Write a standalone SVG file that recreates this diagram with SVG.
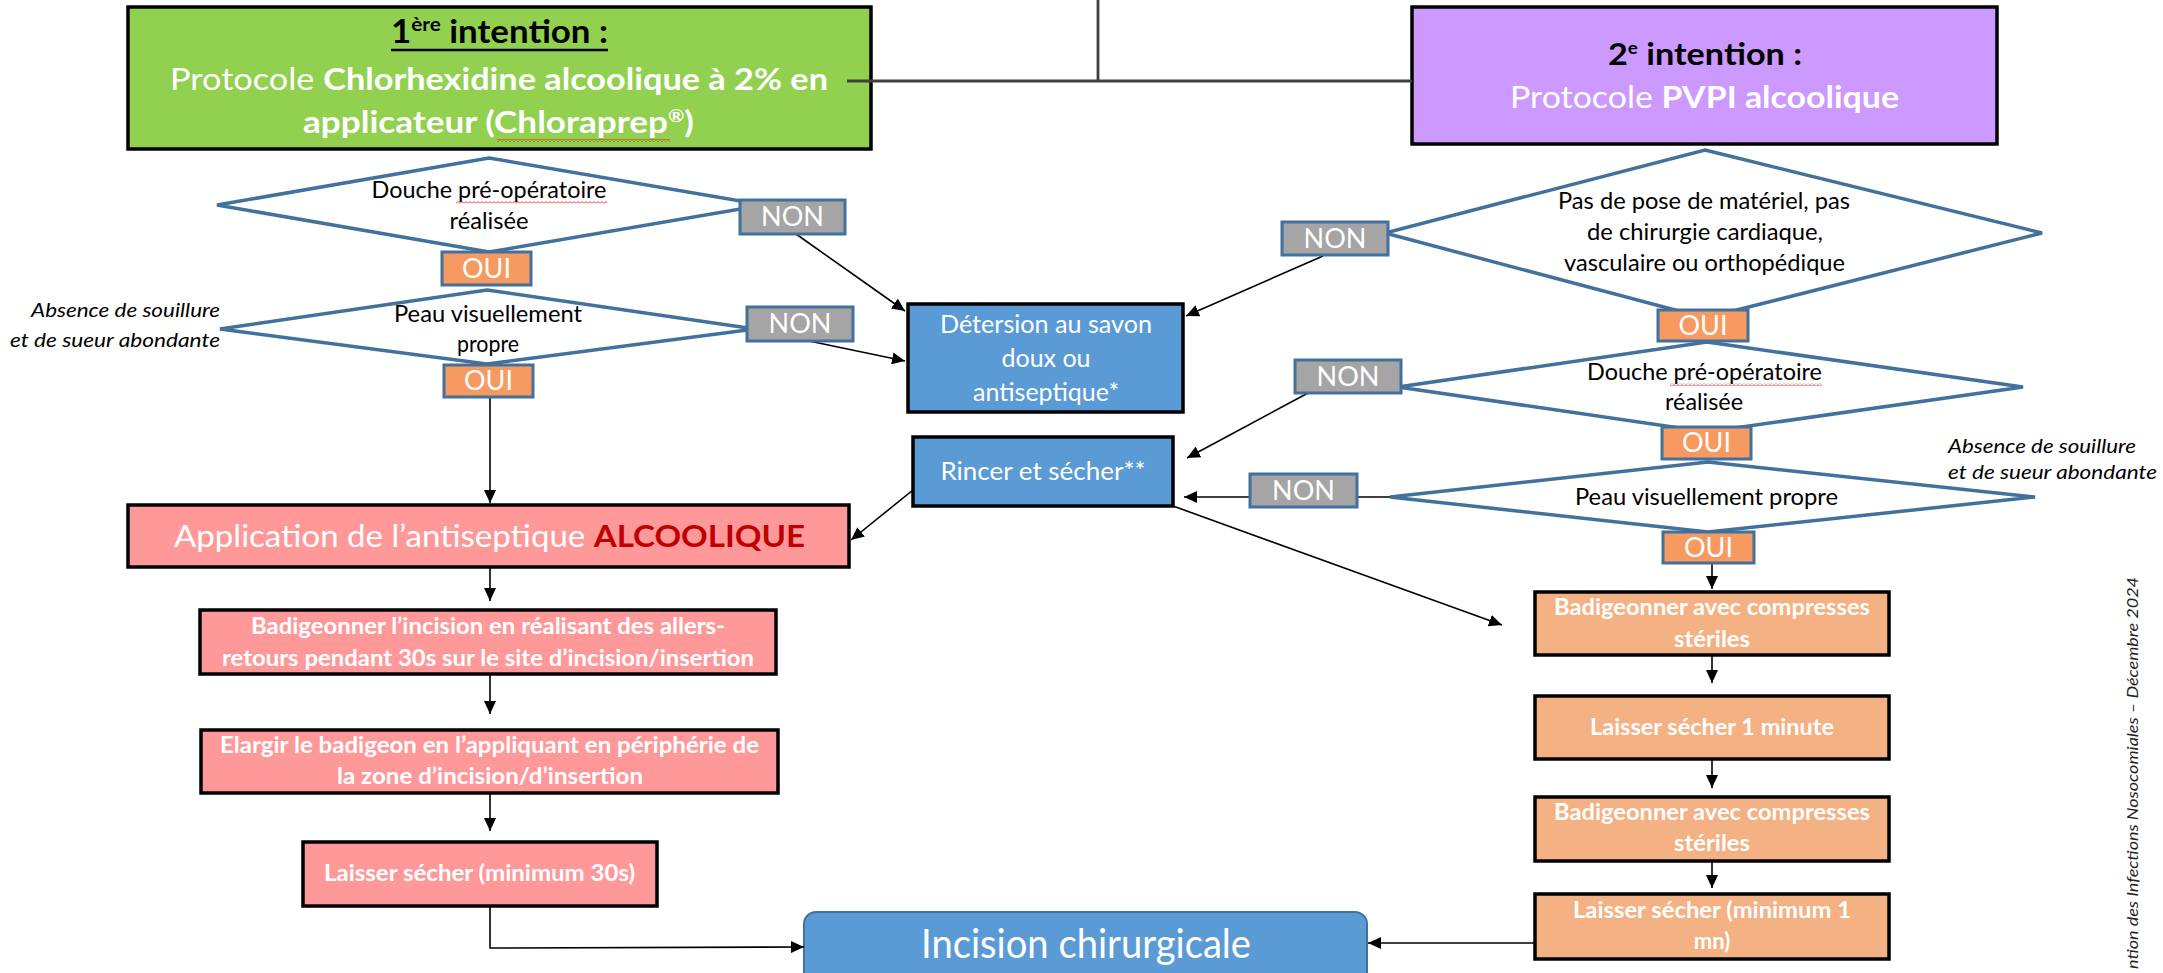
<svg xmlns="http://www.w3.org/2000/svg" width="2163" height="973" viewBox="0 0 2163 973">
<defs>
<style>
text{font-family:Lato,"Open Sans","Liberation Sans",sans-serif}
.box{stroke:#000;stroke-width:3.5}
.green{fill:#92D050}
.purple{fill:#CC99FF}
.blue{fill:#5B9BD5}
.pink{fill:#FF9999}
.peach{fill:#F4B183}
.dia{fill:#fff;stroke:#41719C;stroke-width:3.5;stroke-linejoin:miter}
.non{fill:#A5A5A5;stroke:#41719C;stroke-width:3}
.oui{fill:#F79A62;stroke:#41719C;stroke-width:3}
.lbl{font-size:27px;fill:#fff;text-anchor:middle}
.dt{font-size:23px;fill:#000;text-anchor:middle}
.c{stroke:#000;stroke-width:1.6;fill:none}
.ca{marker-end:url(#ah)}
.top{stroke:#404040;stroke-width:2.8;fill:none}
.ann{font-size:19px;font-style:italic;fill:#000}
.step{font-size:22px;font-weight:bold;fill:#fff;text-anchor:middle}
.bt{font-size:25px;fill:#fff;text-anchor:middle}
</style>
<marker id="ah" markerUnits="userSpaceOnUse" markerWidth="14" markerHeight="12" refX="13" refY="6" orient="auto"><path d="M0,0 L13,6 L0,12 Z" fill="#000"/></marker>
<pattern id="sq" patternUnits="userSpaceOnUse" width="4" height="3"><path d="M0,2.5 L2,0.5 L4,2.5" fill="none" stroke="#E00000" stroke-width="0.8"/></pattern>
</defs>
<rect width="2163" height="973" fill="#fff"/>

<g id="n-premiere">
<rect class="box green" x="128" y="7" width="743" height="142"/>
<text x="499.5" y="43" font-size="32" font-weight="bold" text-anchor="middle" fill="#000" textLength="217" lengthAdjust="spacingAndGlyphs">1<tspan font-size="19" dy="-12">ère</tspan><tspan dy="12"> intention :</tspan></text>
<line x1="391" y1="50" x2="608" y2="50" stroke="#000" stroke-width="2.5"/>
<text x="499" y="90" font-size="30" text-anchor="middle" fill="#fff" textLength="658" lengthAdjust="spacingAndGlyphs">Protocole <tspan font-weight="bold">Chlorhexidine alcoolique à 2% en</tspan></text>
<text x="498.5" y="133" font-size="30" font-weight="bold" text-anchor="middle" fill="#fff" textLength="391" lengthAdjust="spacingAndGlyphs">applicateur (Chloraprep<tspan font-size="17" dy="-11">®</tspan><tspan dy="11">)</tspan></text>
<rect x="497" y="139" width="173" height="3" fill="url(#sq)"/>
</g>

<g id="n-deuxieme">
<rect class="box purple" x="1412" y="7" width="585" height="137"/>
<text x="1705" y="65" font-size="31" font-weight="bold" text-anchor="middle" fill="#000" textLength="194" lengthAdjust="spacingAndGlyphs">2<tspan font-size="17" dy="-11">e</tspan><tspan dy="11"> intention :</tspan></text>
<text x="1704.5" y="108" font-size="30" text-anchor="middle" fill="#fff" textLength="389" lengthAdjust="spacingAndGlyphs">Protocole <tspan font-weight="bold">PVPI alcoolique</tspan></text>
</g>

<g id="n-douche-g">
<polygon class="dia" points="489,158 764,205 489,252 217,205"/>
<text class="dt" x="489" y="198" textLength="235" lengthAdjust="spacingAndGlyphs">Douche pré-opératoire</text>
<rect x="456" y="201" width="151" height="3" fill="url(#sq)"/>
<text class="dt" x="489" y="229" textLength="79" lengthAdjust="spacingAndGlyphs">réalisée</text>
</g>
<g id="n-peau-g">
<polygon class="dia" points="487,290 755,329 487,364 220,329"/>
<text class="dt" x="488" y="322" textLength="188" lengthAdjust="spacingAndGlyphs">Peau visuellement</text>
<text class="dt" x="488" y="352" textLength="62" lengthAdjust="spacingAndGlyphs">propre</text>
</g>
<g id="n-ann-g">
<text class="ann" x="220" y="317" text-anchor="end" textLength="189" lengthAdjust="spacingAndGlyphs">Absence de souillure</text>
<text class="ann" x="220" y="347" text-anchor="end" textLength="210" lengthAdjust="spacingAndGlyphs">et de sueur abondante</text>
</g>

<g id="n-pasdepose">
<polygon class="dia" points="1705,150 2042,233 1705,318 1385,233"/>
<text class="dt" x="1704" y="209" textLength="292" lengthAdjust="spacingAndGlyphs">Pas de pose de matériel, pas</text>
<text class="dt" x="1705" y="240" textLength="236" lengthAdjust="spacingAndGlyphs">de chirurgie cardiaque,</text>
<text class="dt" x="1704.5" y="271" textLength="281" lengthAdjust="spacingAndGlyphs">vasculaire ou orthopédique</text>
</g>
<g id="n-douche-d">
<polygon class="dia" points="1707,342 2023,387 1707,432 1398,387"/>
<text class="dt" x="1704.5" y="380" textLength="235" lengthAdjust="spacingAndGlyphs">Douche pré-opératoire</text>
<rect x="1670" y="383" width="152" height="3" fill="url(#sq)"/>
<text class="dt" x="1704" y="410" textLength="78" lengthAdjust="spacingAndGlyphs">réalisée</text>
</g>
<g id="n-peau-d">
<polygon class="dia" points="1708,462 2035,497 1708,532 1390,497"/>
<text class="dt" x="1706.5" y="505" textLength="263" lengthAdjust="spacingAndGlyphs">Peau visuellement propre</text>
</g>
<g id="n-ann-d">
<text class="ann" x="1948" y="453" textLength="188" lengthAdjust="spacingAndGlyphs">Absence de souillure</text>
<text class="ann" x="1948" y="479" textLength="209" lengthAdjust="spacingAndGlyphs">et de sueur abondante</text>
</g>

<g id="n-detersion">
<rect class="box blue" x="908" y="304" width="275" height="108"/>
<text class="bt" x="1046" y="333" textLength="212" lengthAdjust="spacingAndGlyphs">Détersion au savon</text>
<text class="bt" x="1046" y="367">doux ou</text>
<text class="bt" x="1046" y="401">antiseptique*</text>
</g>
<g id="n-rincer">
<rect class="box blue" x="913" y="437" width="260" height="69"/>
<text class="bt" x="1043" y="480" textLength="205" lengthAdjust="spacingAndGlyphs">Rincer et sécher**</text>
</g>

<g id="n-application">
<rect class="box pink" x="128" y="505" width="721" height="62"/>
<text x="489.5" y="547" font-size="31" text-anchor="middle" fill="#fff" textLength="631" lengthAdjust="spacingAndGlyphs">Application de l’antiseptique <tspan font-weight="bold" fill="#C00000">ALCOOLIQUE</tspan></text>
</g>
<g id="n-badig-g">
<rect class="box pink" x="200" y="610" width="576" height="64"/>
<text class="step" x="488" y="634" textLength="474" lengthAdjust="spacingAndGlyphs">Badigeonner l’incision en réalisant des allers-</text>
<text class="step" x="488" y="666" textLength="532" lengthAdjust="spacingAndGlyphs">retours pendant 30s sur le site d’incision/insertion</text>
</g>
<g id="n-elargir">
<rect class="box pink" x="201" y="730" width="577" height="63"/>
<text class="step" x="489.5" y="753" textLength="539" lengthAdjust="spacingAndGlyphs">Elargir le badigeon en l’appliquant en périphérie de</text>
<text class="step" x="490" y="784" textLength="306" lengthAdjust="spacingAndGlyphs">la zone d’incision/d’insertion</text>
</g>
<g id="n-laisser-g">
<rect class="box pink" x="303" y="842" width="354" height="64"/>
<text class="step" x="479.5" y="881" textLength="311" lengthAdjust="spacingAndGlyphs">Laisser sécher (minimum 30s)</text>
</g>

<g id="n-badig-d1">
<rect class="box peach" x="1535" y="592" width="354" height="63"/>
<text class="step" x="1712" y="615" textLength="316" lengthAdjust="spacingAndGlyphs">Badigeonner avec compresses</text>
<text class="step" x="1712" y="647" textLength="76" lengthAdjust="spacingAndGlyphs">stériles</text>
</g>
<g id="n-laisser-d1">
<rect class="box peach" x="1535" y="696" width="354" height="63"/>
<text class="step" x="1712" y="735" textLength="244" lengthAdjust="spacingAndGlyphs">Laisser sécher 1 minute</text>
</g>
<g id="n-badig-d2">
<rect class="box peach" x="1535" y="797" width="354" height="64"/>
<text class="step" x="1712" y="820" textLength="316" lengthAdjust="spacingAndGlyphs">Badigeonner avec compresses</text>
<text class="step" x="1712" y="851" textLength="76" lengthAdjust="spacingAndGlyphs">stériles</text>
</g>
<g id="n-laisser-d2">
<rect class="box peach" x="1535" y="894" width="354" height="65"/>
<text class="step" x="1712" y="918" textLength="278" lengthAdjust="spacingAndGlyphs">Laisser sécher (minimum 1</text>
<text class="step" x="1712" y="949">mn)</text>
</g>

<g id="n-incision">
<rect x="804" y="912" width="563" height="85" rx="12" fill="#5B9BD5" stroke="#41719C" stroke-width="2"/>
<text x="1086" y="958" font-size="40" text-anchor="middle" fill="#fff" textLength="330" lengthAdjust="spacingAndGlyphs">Incision chirurgicale</text>
</g>

<g id="connectors">
<line class="top" x1="1098" y1="0" x2="1098" y2="82"/>
<line class="top" x1="847" y1="81" x2="1412" y2="81"/>
<line class="c ca" x1="796" y1="234" x2="905" y2="311"/>
<line class="c ca" x1="809" y1="341" x2="905" y2="361"/>
<line class="c ca" x1="1323" y1="256" x2="1186" y2="316"/>
<line class="c ca" x1="1308" y1="393" x2="1187" y2="458"/>
<line class="c" x1="1390" y1="497" x2="1357" y2="497"/>
<line class="c ca" x1="1250" y1="497" x2="1184" y2="497"/>
<line class="c ca" x1="913" y1="490" x2="851" y2="540"/>
<line class="c ca" x1="1173" y1="506" x2="1502" y2="625"/>
<line class="c ca" x1="490" y1="397" x2="490" y2="503"/>
<line class="c ca" x1="490" y1="568" x2="490" y2="601"/>
<line class="c ca" x1="490" y1="674" x2="490" y2="714"/>
<line class="c ca" x1="490" y1="793" x2="490" y2="831"/>
<polyline class="c ca" points="490,906 490,948 804,947"/>
<line class="c ca" x1="1712" y1="563" x2="1712" y2="589"/>
<line class="c ca" x1="1712" y1="655" x2="1712" y2="683"/>
<line class="c ca" x1="1712" y1="759" x2="1712" y2="788"/>
<line class="c ca" x1="1712" y1="861" x2="1712" y2="888"/>
<line class="c ca" x1="1535" y1="943" x2="1368" y2="943"/>
</g>

<g id="n-labels">
<rect class="non" x="740" y="200" width="105" height="34"/><text class="lbl" x="792.5" y="226">NON</text>
<rect class="oui" x="442" y="252" width="89" height="33"/><text class="lbl" x="486.5" y="278">OUI</text>
<rect class="non" x="747" y="307" width="106" height="34"/><text class="lbl" x="800" y="333">NON</text>
<rect class="oui" x="444" y="365" width="89" height="32"/><text class="lbl" x="488.5" y="390">OUI</text>
<rect class="non" x="1282" y="222" width="106" height="33"/><text class="lbl" x="1335" y="248">NON</text>
<rect class="oui" x="1658" y="310" width="90" height="31"/><text class="lbl" x="1703" y="335">OUI</text>
<rect class="non" x="1295" y="360" width="106" height="33"/><text class="lbl" x="1348" y="386">NON</text>
<rect class="oui" x="1662" y="427" width="89" height="32"/><text class="lbl" x="1706.5" y="452">OUI</text>
<rect class="non" x="1250" y="474" width="107" height="33"/><text class="lbl" x="1303.5" y="500">NON</text>
<rect class="oui" x="1663" y="532" width="91" height="31"/><text class="lbl" x="1708.5" y="557">OUI</text>
</g>

<text transform="translate(2138,969) rotate(-90)" font-family="DejaVu Sans,sans-serif" font-style="italic" font-size="16" fill="#222" textLength="392" lengthAdjust="spacingAndGlyphs">ntion des Infections Nosocomiales – Décembre 2024</text>
</svg>
